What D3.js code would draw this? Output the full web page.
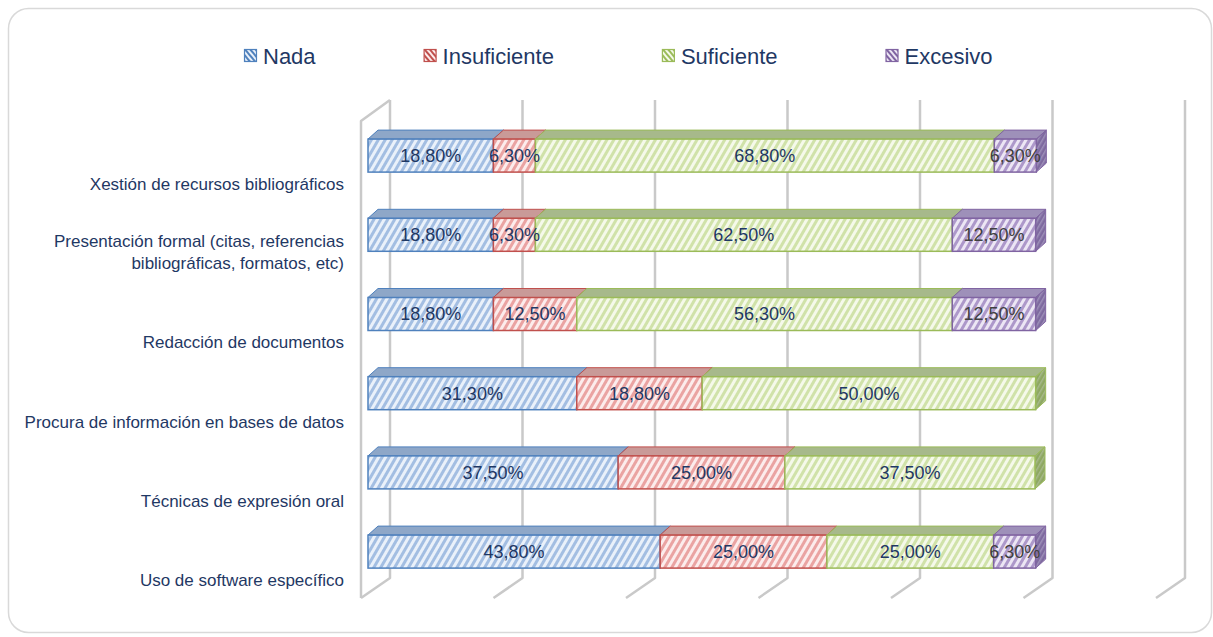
<!DOCTYPE html>
<html>
<head>
<meta charset="utf-8">
<script src="https://cdn.jsdelivr.net/npm/d3@7"></script>
<style>
  body { margin: 0; background: #fff; }
  svg { display: block; font-family: 'Liberation Sans', Arial, sans-serif; }
</style>
</head>
<body>
<div id="chart"></div>
<script>
const categories = [
  'Xestión de recursos bibliográficos',
  'Presentación formal (citas, referencias|bibliográficas, formatos, etc)',
  'Redacción de documentos',
  'Procura de información en bases de datos',
  'Técnicas de expresión oral',
  'Uso de software específico'
]
const seriesNames = ['Nada', 'Insuficiente', 'Suficiente', 'Excesivo']
const nada = [18.8, 18.8, 18.8, 31.3, 37.5, 43.8]
const insuficiente = [6.3, 6.3, 12.5, 18.8, 25.0, 25.0]
const suficiente = [68.8, 62.5, 56.3, 50.0, 37.5, 25.0]
const excesivo = [6.3, 12.5, 12.5, 0, 0, 6.3]
const gridTicks = [0, 20, 40, 60, 80, 100, 120]

const width = 1213
const height = 637
const navy = '#1f3864'

// pale stripes, border, top face, side face, label colour
const styles = {
  Nada: { stripe: '#a3bee2', bg: '#eaf1fa', border: '#4f81bd', top: '#8ea7c8', side: '#6f8fba', label: navy },
  Insuficiente: { stripe: '#eaa3a2', bg: '#fcecec', border: '#c0504d', top: '#c99a98', side: '#b06a68', label: navy },
  Suficiente: { stripe: '#d0e2a9', bg: '#f5f9ea', border: '#9bbb59', top: '#a7b98b', side: '#8ea862', label: navy },
  Excesivo: { stripe: '#ad98ca', bg: '#ece6f4', border: '#8064a2', top: '#9e90b9', side: '#7e6a9f', label: '#404040' }
}

const rows = categories.map((c, i) => ({
  cat: c,
  Nada: nada[i],
  Insuficiente: insuficiente[i],
  Suficiente: suficiente[i],
  Excesivo: excesivo[i]
}))
const stacked = d3.stack().keys(seriesNames)(rows)

const xFront = d3.scaleLinear().domain([0, 100]).range([368, 1035])
const xBack = d3.scaleLinear().domain([0, 120]).range([390, 1185])
const y = d3.scaleBand().domain(categories).range([116, 591.2]).padding(0)
const barH = 33
const depth = { dx: 10, dy: -9 }
const floor = { top: 100, bottom: 578, dx: -29, dy: 20 }

const locale = d3.formatLocale({ decimal: ',', thousands: '.', grouping: [3], currency: ['', '€'] })
const fmt = v => locale.format('.2f')(v) + '%'

const svg = d3.select('#chart').append('svg')
  .attr('width', width)
  .attr('height', height)

const defs = svg.append('defs')
seriesNames.forEach(k => {
  const s = styles[k]
  const p = defs.append('pattern')
    .attr('id', 'hatch-' + k)
    .attr('patternUnits', 'userSpaceOnUse')
    .attr('width', 6)
    .attr('height', 10)
    .attr('patternTransform', 'rotate(30)')
  p.append('rect').attr('width', 6).attr('height', 10).attr('fill', s.bg)
  p.append('rect').attr('width', 3).attr('height', 10).attr('fill', s.stripe)
  const ps = defs.append('pattern')
    .attr('id', 'side-' + k)
    .attr('patternUnits', 'userSpaceOnUse')
    .attr('width', 4)
    .attr('height', 10)
    .attr('patternTransform', 'rotate(30)')
  ps.append('rect').attr('width', 4).attr('height', 10).attr('fill', s.side)
  ps.append('rect').attr('width', 1.5).attr('height', 10).attr('fill', s.top)
  const pl = defs.append('pattern')
    .attr('id', 'leg-' + k)
    .attr('patternUnits', 'userSpaceOnUse')
    .attr('width', 4)
    .attr('height', 10)
    .attr('patternTransform', 'rotate(-40)')
  pl.append('rect').attr('width', 4).attr('height', 10).attr('fill', s.bg)
  pl.append('rect').attr('width', 2).attr('height', 10).attr('fill', s.border)
})

// outer frame
svg.append('rect')
  .attr('x', 8.5)
  .attr('y', 8.5)
  .attr('width', 1203)
  .attr('height', 624)
  .attr('rx', 20)
  .attr('fill', '#fff')
  .attr('stroke', '#d9d9d9')
  .attr('stroke-width', 1.5)

// walls and gridlines
const grid = svg.append('g')
  .attr('fill', 'none')
  .attr('stroke', '#c9c9c9')
  .attr('stroke-width', 2.5)
  .attr('stroke-linejoin', 'round')
grid.selectAll('path.gl')
  .data(gridTicks)
  .enter()
  .append('path')
  .attr('class', 'gl')
  .attr('d', t => {
    const xb = xBack(t)
    return `M${xb},${floor.top}L${xb},${floor.bottom}L${xb + floor.dx},${floor.bottom + floor.dy}`
  })
grid.append('path')
  .attr('d', () => {
    const xb = xBack(0)
    return `M${xb},${floor.top}L${xb + floor.dx},${floor.top + floor.dy + 1}L${xb + floor.dx},${floor.bottom + floor.dy}`
  })

// category labels
const labels = svg.append('g')
  .attr('fill', navy)
  .attr('font-size', '17px')
  .attr('text-anchor', 'end')
labels.selectAll('text')
  .data(categories)
  .enter()
  .append('text')
  .each(function (d) {
    const lines = d.split('|')
    const base = y(d) + y.bandwidth() / 2 + 28.5
    d3.select(this).selectAll('tspan')
      .data(lines)
      .enter()
      .append('tspan')
      .attr('x', 344)
      .attr('y', (l, i) => base - (lines.length - 1 - i) * 22.5)
      .attr('dy', '0.35em')
      .text(l => l)
  })

// bars
const bars = svg.append('g')
categories.forEach((c, ri) => {
  const top = y(c) + y.bandwidth() / 2 - barH / 2
  const row = bars.append('g')
  stacked.forEach(layer => {
    const d = layer[ri]
    const k = layer.key
    if (d[1] - d[0] <= 0) return
    const s = styles[k]
    const x0 = xFront(d[0])
    const x1 = xFront(d[1])
    const g = row.append('g')
    g.append('path')
      .attr('d', `M${x0},${top}L${x0 + depth.dx},${top + depth.dy}L${x1 + depth.dx},${top + depth.dy}L${x1},${top}Z`)
      .attr('fill', s.top)
      .attr('stroke', s.border)
      .attr('stroke-width', 1)
      .attr('stroke-linejoin', 'round')
    g.append('path')
      .attr('d', `M${x1},${top}L${x1 + depth.dx},${top + depth.dy}L${x1 + depth.dx},${top + barH + depth.dy}L${x1},${top + barH}Z`)
      .attr('fill', `url(#side-${k})`)
      .attr('stroke', s.border)
      .attr('stroke-width', 1)
      .attr('stroke-linejoin', 'round')
    g.append('rect')
      .attr('x', x0)
      .attr('y', top)
      .attr('width', x1 - x0)
      .attr('height', barH)
      .attr('fill', `url(#hatch-${k})`)
      .attr('stroke', s.border)
      .attr('stroke-width', 1.5)
  })
})

// data labels
const dl = svg.append('g')
  .attr('font-size', '18px')
  .attr('text-anchor', 'middle')
stacked.forEach(layer => {
  dl.selectAll(null)
    .data(layer.map((d, i) => ({ d, cat: categories[i] })).filter(o => o.d[1] - o.d[0] > 0))
    .enter()
    .append('text')
    .attr('x', o => xFront((o.d[0] + o.d[1]) / 2))
    .attr('y', o => y(o.cat) + y.bandwidth() / 2)
    .attr('dy', '0.36em')
    .attr('fill', styles[layer.key].label)
    .text(o => fmt(o.d[1] - o.d[0]))
})

// legend
const legend = svg.append('g')
  .attr('font-size', '22px')
  .attr('fill', navy)
let lx = 244
seriesNames.forEach(k => {
  const s = styles[k]
  const item = legend.append('g').attr('transform', `translate(${lx}, 56)`)
  item.append('rect')
    .attr('x', 0.5)
    .attr('y', -6.5)
    .attr('width', 12)
    .attr('height', 12)
    .attr('fill', `url(#leg-${k})`)
    .attr('stroke', s.border)
    .attr('stroke-width', 1.2)
  const t = item.append('text')
    .attr('x', 19)
    .attr('dy', '0.35em')
    .text(k)
  lx += 19 + t.node().getComputedTextLength() + 108
})
</script>
</body>
</html>
